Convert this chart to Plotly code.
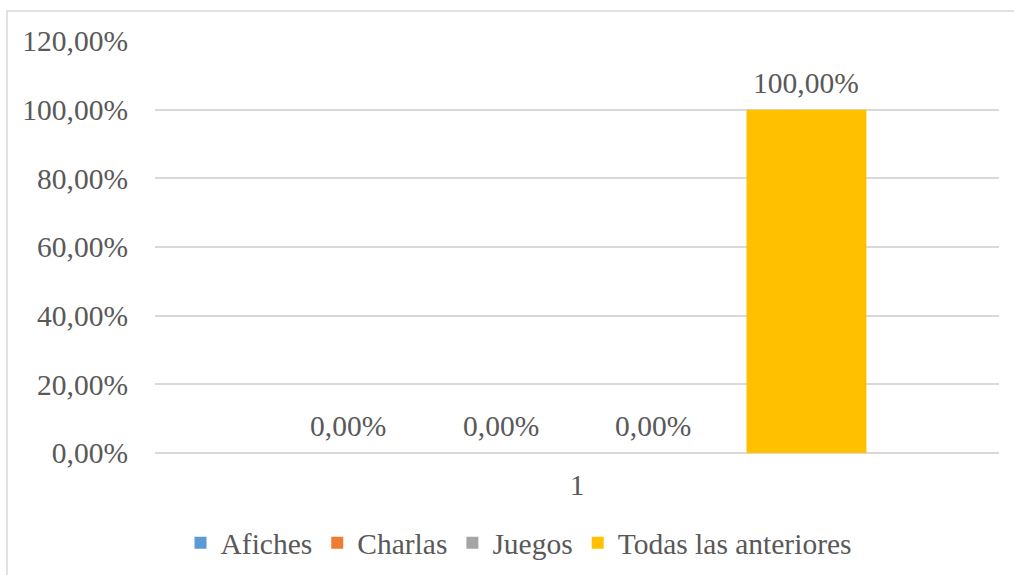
import plotly.graph_objects as go

categories = ["1"]
series_names = ["Afiches", "Charlas", "Juegos", "Todas las anteriores"]
series_values = [[0.0], [0.0], [0.0], [1.0]]
series_colors = ["#5B9BD5", "#ED7D31", "#A5A5A5", "#FFC000"]

FONT = "Liberation Serif, Times New Roman, serif"
TXT = "#595959"
FS = 29.5

W, H = 1014, 575
L, R, T, B = 155, 15, 41, 122
pw, ph = W - L - R, H - T - B

BARGAP = 0.275
GROUPGAP = 0.216


def px_x(p):
    return (p - L) / pw


def px_y(p):
    return (H - B - p) / ph


fig = go.Figure()
for name, vals, col in zip(series_names, series_values, series_colors):
    fig.add_trace(go.Bar(
        x=categories, y=vals, name=name,
        marker=dict(color=col, line=dict(width=0)),
    ))

# value labels above each bar of the group (x given as category index)
n = len(series_names)
slot = pw * (1 - BARGAP) / n
annotations = []
for i, vals in enumerate(series_values):
    for ci, v in enumerate(vals):
        annotations.append(dict(
            x=ci, y=v, xref="x", yref="y", text=f"{v * 100:.2f}%".replace(".", ","),
            showarrow=False, yanchor="bottom", yshift=9,
            xshift=(i - (n - 1) / 2) * slot,
            font=dict(family=FONT, size=FS, color=TXT),
        ))

fig.update_layout(
    width=W, height=H,
    margin=dict(l=L, r=R, t=T, b=B, autoexpand=False),
    paper_bgcolor="white", plot_bgcolor="white",
    separators=",.",
    barmode="group", bargap=BARGAP, bargroupgap=GROUPGAP,
    font=dict(family=FONT, size=FS, color=TXT),
    showlegend=True,
    legend=dict(orientation="h", x=px_x(519), xanchor="center",
                y=1 - 543 / H, yref="container", yanchor="middle",
                font=dict(family=FONT, size=FS, color=TXT),
                traceorder="normal", itemwidth=30),
    xaxis=dict(type="category", range=[-0.5, len(categories) - 0.5], showgrid=False,
               showline=False, ticks="", ticklabelstandoff=11,
               tickfont=dict(size=FS, color=TXT)),
    yaxis=dict(range=[0, 1.2005], dtick=0.2, tickformat=".2%", showgrid=True,
               gridcolor="#D9D9D9", gridwidth=1.5, zeroline=True, zerolinecolor="#D9D9D9",
               zerolinewidth=1.5, ticks="", ticklabelstandoff=26,
               tickfont=dict(size=FS, color=TXT)),
    annotations=annotations,
    shapes=[dict(type="rect", xref="paper", yref="paper",
                 x0=px_x(7), x1=px_x(W + 20), y0=px_y(H + 20), y1=px_y(11),
                 line=dict(color="#D9D9D9", width=1.5), fillcolor="rgba(0,0,0,0)", layer="below")],
)

fig.write_html("out.html")
